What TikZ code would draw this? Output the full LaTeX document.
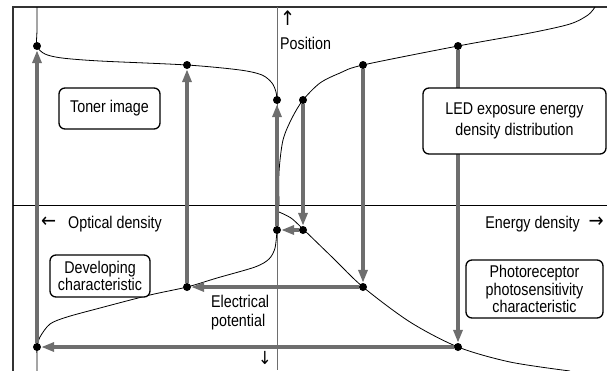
\documentclass[tikz,border=0pt]{standalone}
\usepackage{fontspec}
\setmainfont{Liberation Sans}[FakeStretch=0.84]
\newfontfamily\arrowfont{DejaVu Sans}[FakeStretch=0.9]
\usetikzlibrary{arrows.meta}
\definecolor{arrowgray}{RGB}{110,110,110}
\definecolor{framegray}{RGB}{50,50,50}

\begin{document}
\begin{tikzpicture}[x=1pt, y=-1pt,
    dotnode/.style={circle, fill=black, inner sep=0pt, minimum size=8pt},
    gflow/.style={line width=4pt, arrowgray, -{Triangle[length=13pt, width=9pt]}},
    charline/.style={line width=0.8pt, smooth, tension=0.5},
    tagbox/.style={draw, rounded corners=6pt, line width=1.3pt, fill=white,
        align=center, inner sep=0pt, font=\fontsize{17}{17.5}\selectfont},
    txt/.style={inner sep=0pt, font=\fontsize{17}{19}\selectfont},
    arr/.style={inner sep=0pt, font=\arrowfont\fontsize{20}{20}\selectfont}]
    \useasboundingbox (0,0) rectangle (607,370);
    \clip (0,0) rectangle (607,370);

    % --- Frame and axes ---
    \draw[framegray, line width=1.5pt] (13,380) -- (13,7) -- (620,7);
    \draw[line width=0.7pt] (13,205) -- (607,205);
    \draw[arrowgray, line width=0.9pt] (277,7) -- (277,370);

    % --- Characteristic curves ---
    % toner image (upper left)
    \draw[charline] plot coordinates {(37,7) (37,30) (37,46) (45,54) (62,58)
        (100,61) (187,65) (240,70) (262,75) (272,83) (276,92) (277,100)};
    % LED exposure (upper right)
    \draw[charline] plot coordinates {(279,205) (279,172) (283,140) (292,118)
        (303,100) (320,83) (340,73) (363,65) (458,46) (530,33) (570,24)
        (588,15) (595,7)};
    % developing characteristic (lower left)
    \draw[charline] plot coordinates {(37,372) (37,356) (37,347) (40,337)
        (50,324) (67,317) (100,308) (150,295) (187,287) (217,278) (255,267)
        (269,259) (275,248) (277,230)};
    % photosensitivity (lower right)
    \draw[charline] plot coordinates {(279,212) (291,218) (303,229) (333,258)
        (363,287) (410,322) (458,347) (510,362) (570,371)};

    % --- Points on the curves ---
    \node[dotnode] (tl1) at (37,46) {};
    \node[dotnode] (tl2) at (187,65) {};
    \node[dotnode] (tl3) at (277,100) {};
    \node[dotnode] (tr3) at (303,100) {};
    \node[dotnode] (tr2) at (363,65) {};
    \node[dotnode] (tr1) at (458,46) {};
    \node[dotnode] (bl3) at (277,230) {};
    \node[dotnode] (bl2) at (187,287) {};
    \node[dotnode] (bl1) at (37,347) {};
    \node[dotnode] (br3) at (303,230) {};
    \node[dotnode] (br2) at (363,287) {};
    \node[dotnode] (br1) at (458,347) {};

    % --- Transfer arrows ---
    \draw[gflow] (tr1) -- (br1);
    \draw[gflow] (br1) -- (bl1);
    \draw[gflow] (bl1) -- (tl1);
    \draw[gflow] (tr2) -- (br2);
    \draw[gflow] (br2) -- (bl2);
    \draw[gflow] (bl2) -- (tl2);
    \draw[gflow] (tr3) -- (br3);
    \draw[gflow] (br3) -- (bl3);
    \draw[gflow] (bl3) -- (tl3);

    % --- Boxes ---
    \node[tagbox, minimum width=101pt, minimum height=41pt] (toner) at (109.5,108.5) {Toner image};
    \node[tagbox, minimum width=183pt, minimum height=66pt,
        font=\fontsize{17}{21.5}\selectfont] (led) at (514.5,121)
        {LED exposure energy\\density distribution};
    \node[tagbox, minimum width=100pt, minimum height=42pt] (dev) at (100,276)
        {Developing\\characteristic};
    \node[tagbox, minimum width=137pt, minimum height=58pt] (photo) at (534.5,289)
        {Photoreceptor\\photosensitivity\\characteristic};

    % --- Axis labels ---
    \node[arr, anchor=west] (posup) at (280,18) {↑};
    \node[txt, anchor=west] (pos) at (280,43) {Position};
    \node[arr, anchor=west] (optl) at (41,222) {←};
    \node[txt, anchor=west] (optd) at (68,224) {Optical density};
    \node[txt, anchor=east] (energy) at (580,224) {Energy density};
    \node[arr, anchor=east] (optr) at (604,222) {→};
    \node[txt, anchor=west, align=left] (elpot) at (211,313) {Electrical\\potential};
    \node[arr, font=\arrowfont\fontsize{18}{18}\selectfont] (posdn) at (265,358) {↓};
\end{tikzpicture}
\end{document}
